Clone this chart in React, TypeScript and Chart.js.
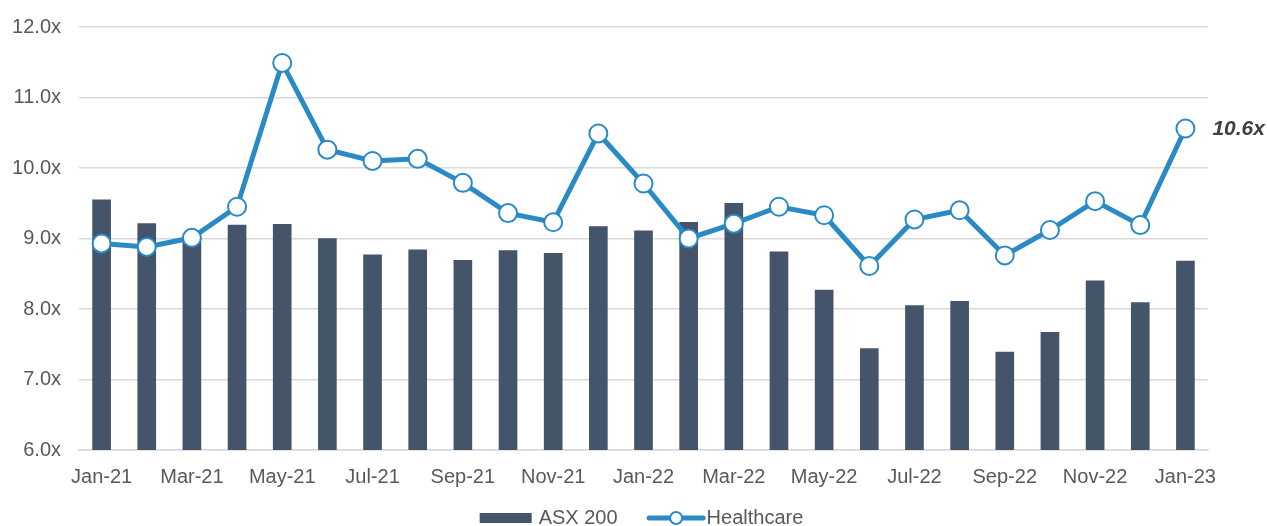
import React, { useEffect, useRef } from "react";
import { Chart, registerables } from "chart.js";

Chart.register(...registerables);

const months = [
  "Jan-21", "Feb-21", "Mar-21", "Apr-21", "May-21", "Jun-21", "Jul-21", "Aug-21",
  "Sep-21", "Oct-21", "Nov-21", "Dec-21", "Jan-22", "Feb-22", "Mar-22", "Apr-22",
  "May-22", "Jun-22", "Jul-22", "Aug-22", "Sep-22", "Oct-22", "Nov-22", "Dec-22", "Jan-23",
];

const asx200 = [
  9.55, 9.21, 9.0, 9.19, 9.2, 9.0, 8.77, 8.84, 8.69, 8.83, 8.79, 9.17, 9.11,
  9.23, 9.5, 8.81, 8.27, 7.44, 8.05, 8.11, 7.39, 7.67, 8.4, 8.09, 8.68,
];

const healthcare = [
  8.93, 8.88, 9.01, 9.45, 11.49, 10.26, 10.1, 10.13, 9.79, 9.36, 9.23, 10.49, 9.78,
  9.0, 9.21, 9.45, 9.33, 8.61, 9.27, 9.4, 8.76, 9.12, 9.53, 9.19, 10.56,
];

const seriesNames = ["ASX 200", "Healthcare"];
const lastLabel = "10.6x";

const BAR_COLOR = "#44546a";
const LINE_COLOR = "#2a8ac6";
const TEXT_COLOR = "#595959";
const GRID_COLOR = "#d9d9d9";
const FONT = "'Liberation Sans', Arial, sans-serif";

const lastLabelPlugin = {
  id: "lastLabel",
  afterDatasetsDraw(chart: any) {
    const meta = chart.getDatasetMeta(1);
    const pt = meta.data[meta.data.length - 1];
    if (!pt) return;
    const ctx = chart.ctx;
    ctx.save();
    ctx.font = `italic bold 21px ${FONT}`;
    ctx.fillStyle = "#404040";
    ctx.textAlign = "left";
    ctx.textBaseline = "middle";
    ctx.fillText(lastLabel, pt.x + 27, pt.y + 1);
    ctx.restore();
  },
};

const legendPlugin = {
  id: "customLegend",
  afterDraw(chart: any) {
    const ctx = chart.ctx;
    ctx.save();
    ctx.font = `20px ${FONT}`;
    ctx.textBaseline = "middle";
    ctx.textAlign = "left";
    const w1 = ctx.measureText(seriesNames[0]).width;
    const w2 = ctx.measureText(seriesNames[1]).width;
    const boxW = 52;
    const lineW = 59;
    const total = boxW + 7 + w1 + 29 + lineW + 1 + w2;
    const y = chart.height - 8;
    let x = chart.width / 2 - total / 2 + 8;
    ctx.fillStyle = BAR_COLOR;
    ctx.fillRect(x, y - 5, boxW, 10);
    x += boxW + 7;
    ctx.fillStyle = TEXT_COLOR;
    ctx.fillText(seriesNames[0], x, y);
    x += w1 + 29;
    ctx.strokeStyle = LINE_COLOR;
    ctx.lineWidth = 5;
    ctx.lineCap = "round";
    ctx.beginPath();
    ctx.moveTo(x + 2.5, y);
    ctx.lineTo(x + lineW - 2.5, y);
    ctx.stroke();
    ctx.beginPath();
    ctx.arc(x + lineW / 2, y, 6, 0, Math.PI * 2);
    ctx.fillStyle = "#ffffff";
    ctx.fill();
    ctx.lineWidth = 2;
    ctx.stroke();
    x += lineW + 1;
    ctx.fillStyle = TEXT_COLOR;
    ctx.fillText(seriesNames[1], x, y);
    ctx.restore();
  },
};

export default function App() {
  const canvasRef = useRef<HTMLCanvasElement | null>(null);

  useEffect(() => {
    document.body.style.margin = "0";
    const chart = new Chart(canvasRef.current!, {
      type: "bar",
      data: {
        labels: months,
        datasets: [
          {
            type: "bar",
            label: seriesNames[0],
            data: asx200,
            backgroundColor: BAR_COLOR,
            barThickness: 18,
            order: 2,
          },
          {
            type: "line",
            label: seriesNames[1],
            data: healthcare,
            borderColor: LINE_COLOR,
            borderWidth: 5,
            pointRadius: 9,
            pointBorderWidth: 2,
            pointBackgroundColor: "#ffffff",
            pointBorderColor: LINE_COLOR,
            tension: 0,
            order: 1,
          } as any,
        ],
      },
      options: {
        animation: false,
        responsive: true,
        maintainAspectRatio: false,
        layout: { padding: { top: 0, right: 0, left: 0, bottom: 22 } },
        plugins: {
          tooltip: { enabled: false },
          legend: { display: false },
        },
        scales: {
          x: {
            grid: { display: false, drawTicks: false },
            border: { display: true, color: GRID_COLOR, width: 1.5 },
            ticks: {
              autoSkip: false,
              maxRotation: 0,
              color: TEXT_COLOR,
              font: { family: FONT, size: 20 },
              padding: 15,
              callback: (_v: any, i: number) => (i % 2 === 0 ? months[i] : ""),
            },
          },
          y: {
            min: 6,
            max: 12,
            afterFit: (s: any) => {
              s.width = 79;
            },
            grid: {
              color: GRID_COLOR,
              lineWidth: 1.5,
              drawTicks: true,
              tickLength: 3,
              tickColor: "rgba(0,0,0,0)",
            },
            border: { display: false },
            ticks: {
              stepSize: 1,
              color: TEXT_COLOR,
              font: { family: FONT, size: 20 },
              padding: 15,
              callback: (v: any) => Number(v).toFixed(1) + "x",
            },
          },
          yRight: {
            position: "right",
            min: 6,
            max: 12,
            afterFit: (s: any) => {
              s.width = 59;
            },
            grid: { display: false, drawTicks: false },
            border: { display: false },
            ticks: { display: false },
          },
        },
      },
      plugins: [lastLabelPlugin, legendPlugin],
    });
    return () => chart.destroy();
  }, []);

  return (
    <div style={{ position: "fixed", left: 0, top: 0, width: 1267, height: 526 }}>
      <canvas ref={canvasRef} />
    </div>
  );
}
